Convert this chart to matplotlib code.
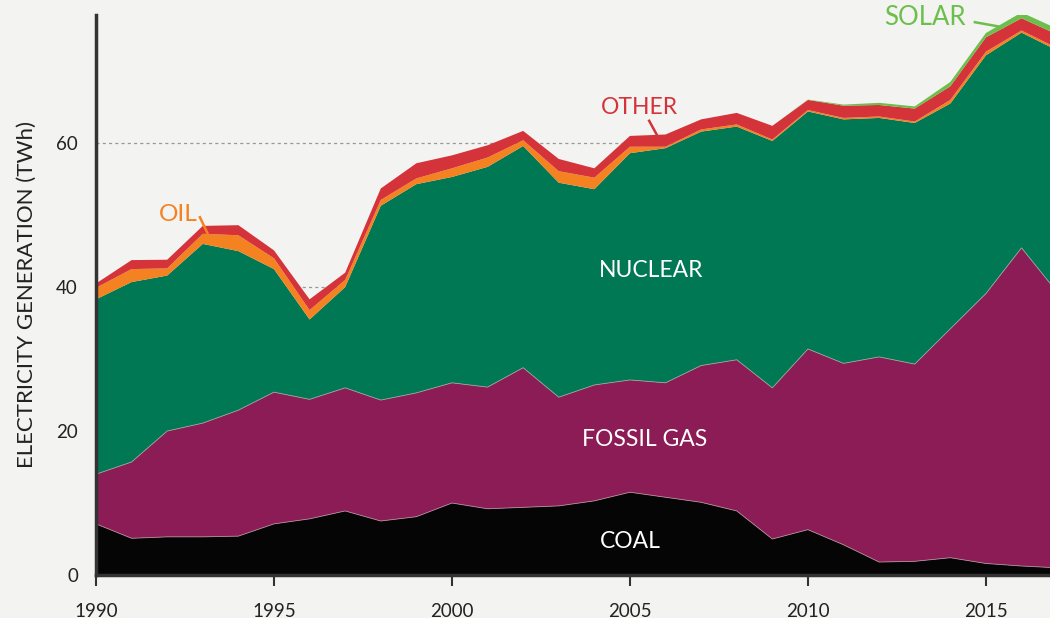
import numpy as np
import matplotlib
matplotlib.use("Agg")
import matplotlib.pyplot as plt

plt.rcParams['font.family'] = ['Lato', 'DejaVu Sans']

years = list(range(1990, 2018))
coal = [7.1, 5.1, 5.3, 5.3, 5.4, 7.1, 7.8, 8.9, 7.5, 8.1, 10.0, 9.2, 9.4, 9.6,
        10.3, 11.5, 10.8, 10.1, 8.9, 5.0, 6.3, 4.2, 1.8, 1.9, 2.4, 1.6, 1.25, 1.0]
gas = [6.9, 10.6, 14.7, 15.8, 17.5, 18.3, 16.6, 17.1, 16.8, 17.2, 16.7, 16.9, 19.4, 15.1,
       16.1, 15.6, 15.9, 19.0, 21.0, 21.0, 25.1, 25.2, 28.5, 27.4, 31.8, 37.5, 44.2, 38.3]
nuclear = [24.3, 25.0, 21.6, 24.9, 22.1, 17.1, 11.1, 14.0, 27.0, 29.0, 28.6, 30.6, 30.8, 29.8,
           27.2, 31.5, 32.6, 32.5, 32.4, 34.3, 33.0, 33.9, 33.2, 33.5, 31.3, 33.1, 29.9, 33.6]
oil = [1.6, 1.8, 1.0, 1.4, 2.2, 1.5, 1.3, 1.0, 0.8, 0.8, 1.2, 1.3, 0.8, 1.6,
       1.6, 0.9, 0.2, 0.3, 0.3, 0.2, 0.2, 0.2, 0.2, 0.2, 0.5, 0.5, 0.3, 0.3]
other = [0.6, 1.25, 1.2, 1.1, 1.4, 1.1, 1.5, 1.0, 1.6, 2.1, 1.8, 1.7, 1.3, 1.7,
         1.3, 1.5, 1.7, 1.4, 1.6, 1.9, 1.4, 1.7, 1.6, 1.8, 1.9, 2.0, 1.7, 1.9]
solar = [0, 0, 0, 0, 0, 0, 0, 0, 0, 0, 0, 0, 0, 0,
         0, 0, 0, 0, 0, 0, 0.05, 0.15, 0.3, 0.3, 0.6, 0.6, 0.8, 0.8]

colors = ['#050505', '#8b1c55', '#007853', '#f58220', '#d5333a', '#6cbf4b']
bg = '#f3f3f1'

fig = plt.figure(figsize=(10.5, 6.18), dpi=100, facecolor=bg)
ax = fig.add_axes([96/1050, 1 - 575/618, 1 - 96/1050, (575 - 15)/618])
ax.set_facecolor(bg)

for g in [20, 40, 60]:
    ax.axhline(g, color='#999999', lw=0.9, ls=(0, (2.5, 2.5)), zorder=0)

ax.stackplot(years, coal, gas, nuclear, oil, other, solar, colors=colors,
             linewidth=0, zorder=2)
# thin light separators between the big layers
cum = np.cumsum([coal, gas], axis=0)
ax.plot(years, cum[0], color='#b08898', lw=0.6, zorder=3)
ax.plot(years, cum[1], color='#9aa39a', lw=0.6, zorder=3)

ax.set_xlim(1990, 2016.8)
ax.set_ylim(0, 77.8)

for s in ['top', 'right']:
    ax.spines[s].set_visible(False)
for s in ['left', 'bottom']:
    ax.spines[s].set_color('#333333')
    ax.spines[s].set_linewidth(2.5)
    ax.spines[s].set_zorder(4)

ax.set_xticks(range(1990, 2016, 5))
ax.set_yticks([0, 20, 40, 60])
ax.tick_params(axis='x', length=8, width=1.5, color='#333333', pad=12,
               labelsize=13.5, labelcolor='#222222')
ax.tick_params(axis='y', length=0, pad=13, labelsize=13.5, labelcolor='#222222')
ax.set_ylabel('ELECTRICITY GENERATION (TWh)', fontsize=16, color='#222222', labelpad=14)

ax.text(2005, 4.6, 'COAL', color='white', fontsize=16.5, ha='center', va='center', zorder=5)
ax.text(2005.4, 18.8, 'FOSSIL GAS', color='white', fontsize=16.5, ha='center', va='center', zorder=5)
ax.text(2005.6, 42.3, 'NUCLEAR', color='white', fontsize=16.5, ha='center', va='center', zorder=5)

ax.text(2005.28, 65.0, 'OTHER', color='#d5333a', fontsize=16.5, ha='center', va='center', zorder=5)
ax.plot([2005.54, 2005.75], [63.1, 61.2], color='#d5333a', lw=1.8, zorder=5)
ax.text(1992.3, 50.1, 'OIL', color='#f58220', fontsize=17.5, ha='center', va='center', zorder=5)
ax.plot([1992.92, 1993.13], [49.7, 47.5], color='#f58220', lw=1.8, zorder=5)
ax.text(2013.29, 77.4, 'SOLAR', color='#6cbf4b', fontsize=18.5, ha='center', va='center', zorder=5)
ax.plot([2014.69, 2015.48], [76.8, 76.1], color='#6cbf4b', lw=1.8, zorder=5)

fig.savefig('out.png', dpi=100, facecolor=bg)
